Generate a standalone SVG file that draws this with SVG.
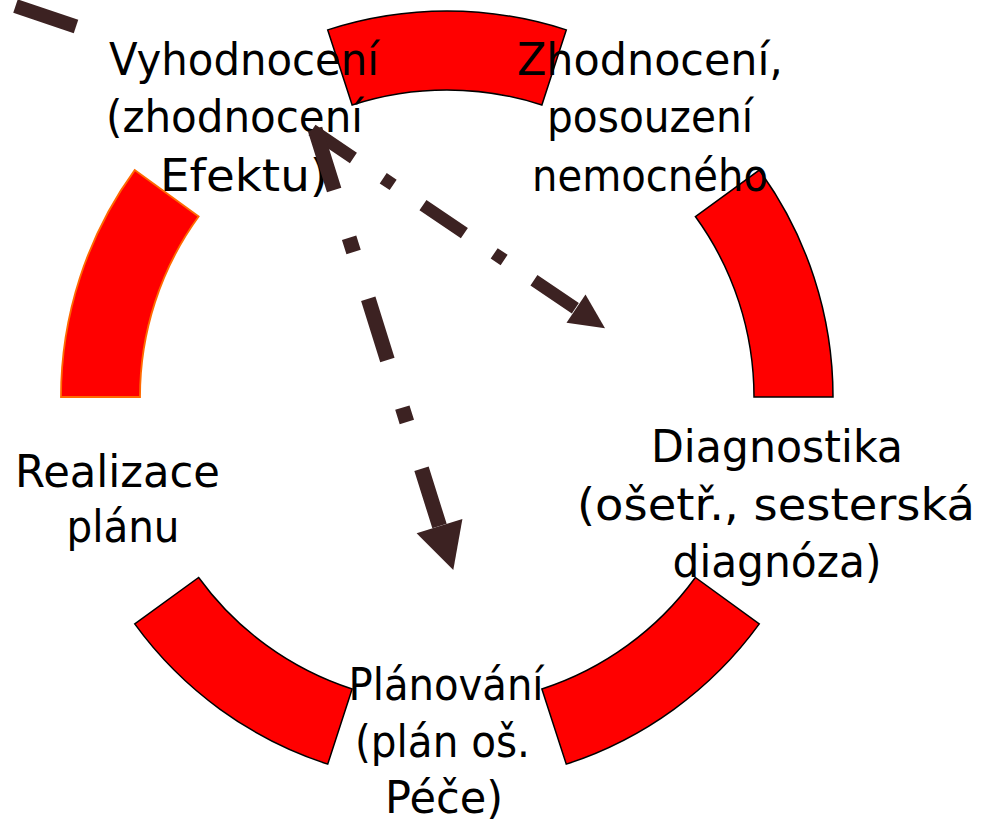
<svg xmlns="http://www.w3.org/2000/svg" width="982" height="826" viewBox="0 0 982 826">
<style>
.seg{fill:#FF0000;stroke:#000000;stroke-width:1.5;stroke-linejoin:miter}
.seg-o{fill:#FF0000;stroke:#FF6A00;stroke-width:1.8}
.lbl{font-family:"DejaVu Sans","Liberation Sans",sans-serif;font-size:45px;fill:#000000;text-anchor:middle}
.conA{fill:none;stroke:#3C2222;stroke-width:12.5;stroke-dasharray:50 36 12 36;stroke-linecap:butt}
.conB{fill:none;stroke:#3C2222;stroke-width:15;stroke-dasharray:64 50 15 49;stroke-linecap:butt}
.head{fill:#3C2222;stroke:none}
</style>
<rect width="982" height="826" fill="#FFFFFF"/>
<g id="ring">
<path id="seg-top" class="seg" d="M 327.72 29.89 A 386 386 0 0 1 566.28 29.89 L 541.87 105.02 A 307 307 0 0 0 352.13 105.02 Z"/>
<path id="seg-right" class="seg" d="M 759.28 170.11 A 386 386 0 0 1 833 397 L 754 397 A 307 307 0 0 0 695.37 216.55 Z"/>
<path id="seg-bottom-right" class="seg" d="M 759.28 623.89 A 386 386 0 0 1 566.28 764.11 L 541.87 688.98 A 307 307 0 0 0 695.37 577.45 Z"/>
<path id="seg-bottom-left" class="seg" d="M 327.72 764.11 A 386 386 0 0 1 134.72 623.89 L 198.63 577.45 A 307 307 0 0 0 352.13 688.98 Z"/>
<path id="seg-left" class="seg-o" d="M 61 397 A 386 386 0 0 1 134.72 170.11 L 198.63 216.55 A 307 307 0 0 0 140 397 Z"/>
</g>
<g id="node-vyhodnoceni">
<text class="lbl" x="244" y="75" textLength="270" lengthAdjust="spacingAndGlyphs">Vyhodnocení</text>
<text class="lbl" x="234.5" y="132" textLength="257" lengthAdjust="spacingAndGlyphs">(zhodnocení</text>
<text class="lbl" x="244" y="191" textLength="168" lengthAdjust="spacingAndGlyphs">Efektu)</text>
</g>
<g id="node-zhodnoceni">
<text class="lbl" x="650" y="75" textLength="266" lengthAdjust="spacingAndGlyphs">Zhodnocení,</text>
<text class="lbl" x="650" y="132" textLength="206" lengthAdjust="spacingAndGlyphs">posouzení</text>
<text class="lbl" x="650" y="191" textLength="236" lengthAdjust="spacingAndGlyphs">nemocného</text>
</g>
<g id="node-diagnostika">
<text class="lbl" x="777" y="462" textLength="252" lengthAdjust="spacingAndGlyphs">Diagnostika</text>
<text class="lbl" x="776" y="520" textLength="398" lengthAdjust="spacingAndGlyphs">(ošetř., sesterská</text>
<text class="lbl" x="777" y="577" textLength="209" lengthAdjust="spacingAndGlyphs">diagnóza)</text>
</g>
<g id="node-realizace">
<text class="lbl" x="117.5" y="487" textLength="205" lengthAdjust="spacingAndGlyphs">Realizace</text>
<text class="lbl" x="123" y="542" textLength="113" lengthAdjust="spacingAndGlyphs">plánu</text>
</g>
<g id="node-planovani">
<text class="lbl" x="446" y="700" textLength="195" lengthAdjust="spacingAndGlyphs">Plánování</text>
<text class="lbl" x="442.5" y="757" textLength="175" lengthAdjust="spacingAndGlyphs">(plán oš.</text>
<text class="lbl" x="444" y="813" textLength="118" lengthAdjust="spacingAndGlyphs">Péče)</text>
</g>
<g id="connectors">
<line class="conB" x1="15.5" y1="6" x2="76" y2="26.5" style="stroke-dasharray:none;stroke-width:14"/>
<path id="con-to-diagnostika" class="conA" d="M 312 130 L 576 308.7"/>
<polygon class="head" points="605,328.3 566.5,322.8 585.5,294.6"/>
<path id="con-to-planovani" class="conB" d="M 315 129 L 439.5 526.1"/>
<polygon class="head" points="453.3,570 416.6,533.3 462.4,518.9"/>
</g>
</svg>
